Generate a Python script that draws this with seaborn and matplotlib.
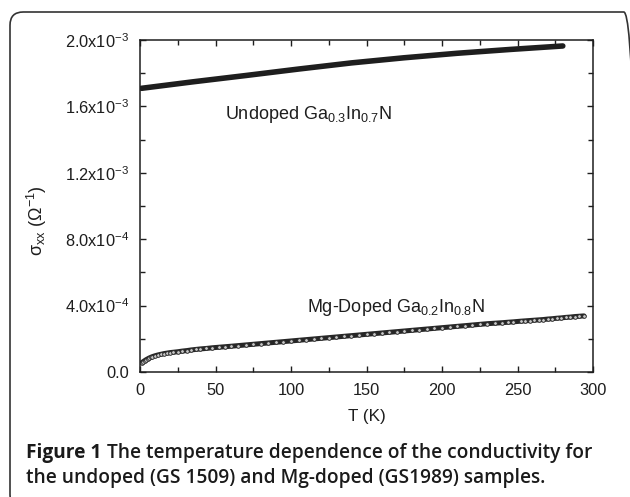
import numpy as np
import pandas as pd
import matplotlib
matplotlib.use("Agg")
import matplotlib.pyplot as plt
import seaborn as sns
from matplotlib.patches import FancyBboxPatch
from matplotlib.ticker import MultipleLocator, FixedLocator, FixedFormatter

# ---------------- data ----------------
undoped_T = [1, 35, 70, 105, 140, 175, 210, 245, 280]
undoped_sigma = [1.709e-3, 1.748e-3, 1.786e-3, 1.825e-3, 1.862e-3,
                 1.893e-3, 1.920e-3, 1.943e-3, 1.964e-3]

mg_T = [1, 2, 3, 4, 5, 6, 7, 8, 10, 12, 14, 16, 18, 20, 22, 25, 28, 31, 34, 37,
        40, 44, 48, 52, 56, 60, 65, 70, 75, 80, 85, 90, 95, 100, 105, 110, 115,
        120, 125, 130, 135, 140, 145, 150, 155, 160, 165, 170, 175, 180, 185,
        190, 195, 200, 205, 210, 215, 220, 225, 230, 235, 240, 244, 247, 252,
        255, 258, 261, 264, 267, 270, 273, 276, 279, 282, 285, 288, 291, 294]
mg_sigma_e4 = [0.55, 0.62, 0.68, 0.74, 0.79, 0.84, 0.88, 0.92, 0.98, 1.03, 1.07,
               1.11, 1.14, 1.17, 1.19, 1.22, 1.26, 1.29, 1.33, 1.36, 1.39, 1.42,
               1.46, 1.49, 1.52, 1.55, 1.59, 1.63, 1.67, 1.71, 1.75, 1.79, 1.83,
               1.87, 1.91, 1.95, 1.99, 2.03, 2.07, 2.11, 2.15, 2.19, 2.23, 2.27,
               2.31, 2.35, 2.39, 2.43, 2.47, 2.51, 2.55, 2.59, 2.63, 2.67, 2.71,
               2.75, 2.79, 2.83, 2.87, 2.91, 2.94, 2.97, 3.00, 3.02, 3.06, 3.08,
               3.10, 3.12, 3.14, 3.16, 3.19, 3.21, 3.24, 3.26, 3.29, 3.31, 3.34,
               3.36, 3.38]
mg_sigma = [v * 1e-4 for v in mg_sigma_e4]

y_ticks = [0.0, 4.0e-4, 8.0e-4, 1.2e-3, 1.6e-3, 2.0e-3]
y_tick_labels = [r"0.0", r"4.0x10$^{-4}$", r"8.0x10$^{-4}$", r"1.2x10$^{-3}$",
                 r"1.6x10$^{-3}$", r"2.0x10$^{-3}$"]
x_ticks = [0, 50, 100, 150, 200, 250, 300]

df_u = pd.DataFrame({"T": undoped_T, "sigma": undoped_sigma})
df_m = pd.DataFrame({"T": mg_T, "sigma": mg_sigma})

# ---------------- style ----------------
sns.set_theme(style="ticks")
plt.rcParams["font.family"] = ["Liberation Sans", "DejaVu Sans"]
plt.rcParams["mathtext.fontset"] = "custom"
plt.rcParams["mathtext.rm"] = "Liberation Sans"
plt.rcParams["mathtext.it"] = "Liberation Sans:italic"
plt.rcParams["mathtext.bf"] = "Liberation Sans:bold"
plt.rcParams["mathtext.default"] = "regular"

ink = "#1e1e1e"
fig = plt.figure(figsize=(6.30, 4.97), dpi=100)
fig.patch.set_facecolor("white")

# rounded frame drawn in pixel units: top-left corner at (10, 12) px;
# the right side sits just past the page edge, the bottom runs off the page
W, H = 630.0, 497.0
left_px, top_px, right_px, bottom_px = 10.0, 12.0, 637.0, 508.0
frame = FancyBboxPatch((left_px / W, 1 - bottom_px / H),
                       (right_px - left_px) / W, (bottom_px - top_px) / H,
                       boxstyle="round,pad=0,rounding_size=0.021",
                       transform=fig.transFigure, fill=False,
                       edgecolor="#333333", linewidth=1.2, clip_on=False,
                       mutation_aspect=W / H)
fig.patches.append(frame)

ax = fig.add_axes([140 / 630, (497 - 372) / 497, (593 - 140) / 630, (372 - 40) / 497])

sns.lineplot(data=df_u, x="T", y="sigma", ax=ax, color=ink, linewidth=4.0,
             solid_capstyle="round", legend=False)
sns.lineplot(data=df_m, x="T", y="sigma", ax=ax, color="#262626", linewidth=3.6,
             legend=False)
sns.scatterplot(data=df_m, x="T", y="sigma", ax=ax, marker="o", s=7,
                facecolor="#c8c8c8", edgecolor="#262626", linewidth=0.6,
                legend=False, zorder=3)

ax.set_xlim(0, 300)
ax.set_ylim(0, 2.0e-3)
ax.xaxis.set_major_locator(FixedLocator(x_ticks))
ax.xaxis.set_minor_locator(MultipleLocator(25))
ax.yaxis.set_major_locator(FixedLocator(y_ticks))
ax.yaxis.set_major_formatter(FixedFormatter(y_tick_labels))
ax.yaxis.set_minor_locator(MultipleLocator(2e-4))

ax.tick_params(which="both", direction="in", top=True, right=True,
               color=ink, width=1.0, labelsize=11.8, labelcolor=ink)
ax.tick_params(which="major", length=4.5)
ax.tick_params(axis="x", which="major", pad=8)
ax.tick_params(axis="y", which="major", pad=8)
ax.tick_params(which="minor", length=3.5)
for s in ax.spines.values():
    s.set_color(ink)
    s.set_linewidth(1.1)

ax.set_xlabel("T (K)", fontsize=12.3, color=ink, labelpad=8)
ax.set_ylabel(r"σ$_{xx}$ (Ω$^{-1}$)", fontsize=13, color=ink)
ax.yaxis.set_label_coords(-0.2, 0.455)

ax.text(56, 1.527e-3, r"Undoped Ga$_{0.3}$In$_{0.7}$N", fontsize=13,
        color=ink, va="baseline", ha="left")
ax.text(110.5, 3.64e-4, r"Mg-Doped Ga$_{0.2}$In$_{0.8}$N", fontsize=13,
        color=ink, va="baseline", ha="left")

# caption
cap_font = ["Open Sans", "DejaVu Sans"]
t1 = fig.text(26 / 630, 1 - 458 / 497, "Figure 1", family=cap_font,
              fontweight="bold", fontsize=13.8, color="#1a1a1a",
              va="baseline", ha="left")
fig.canvas.draw()
bb = t1.get_window_extent()
fig.text(bb.x1 / 630 + 0.009, 1 - 458 / 497,
         "The temperature dependence of the conductivity for",
         family=cap_font, fontweight="semibold", fontsize=13.8,
         color="#1a1a1a", va="baseline", ha="left")
fig.text(26 / 630, 1 - 483.5 / 497,
         "the undoped (GS 1509) and Mg-doped (GS1989) samples.",
         family=cap_font, fontweight="semibold", fontsize=13.8,
         color="#1a1a1a", va="baseline", ha="left")

fig.savefig("out.png", dpi=100, facecolor="white")
